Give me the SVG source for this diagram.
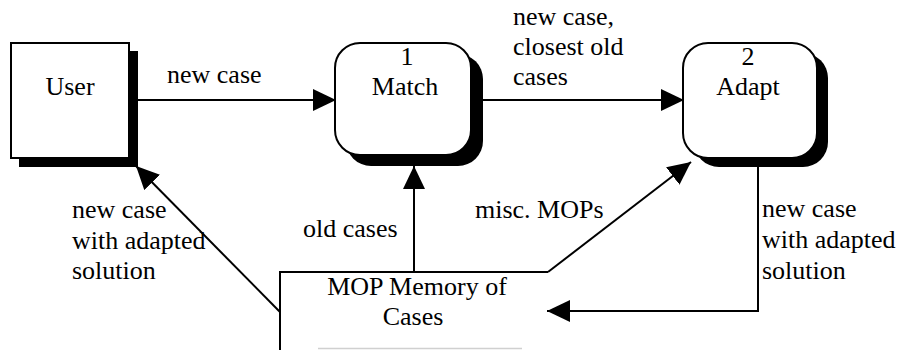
<svg xmlns="http://www.w3.org/2000/svg" width="899" height="350" viewBox="0 0 899 350">
<style>
.t{font-family:'Liberation Serif',serif;font-size:26px;fill:#000}
.c{text-anchor:middle}
.box{fill:#fff;stroke:#000;stroke-width:2}
.sh{fill:#000}
.ln{fill:none;stroke:#000;stroke-width:2}
</style>
<defs>
<marker id="ah" markerUnits="userSpaceOnUse" markerWidth="24" markerHeight="22" viewBox="0 0 24 22" refX="23" refY="11" orient="auto">
<path d="M0,0 L23,11 L0,22 Z" fill="#000"/>
</marker>
</defs>
<rect width="899" height="350" fill="#fff"/>
<g id="user">
<rect class="sh" x="19" y="51" width="119" height="116"/>
<rect class="box" x="11" y="43" width="118" height="115"/>
<text class="t c" font-family="Liberation Serif" x="70" y="95">User</text>
</g>
<g id="match">
<rect class="sh" x="346" y="54" width="137" height="112" rx="25"/>
<rect class="box" x="335" y="43" width="136" height="112" rx="25"/>
<text class="t c" x="407" y="65">1</text>
<text class="t c" x="405" y="95">Match</text>
</g>
<g id="adapt">
<rect class="sh" x="694" y="53" width="134" height="114" rx="25"/>
<rect class="box" x="683" y="43" width="134" height="115" rx="25"/>
<text class="t c" x="748" y="65">2</text>
<text class="t c" x="748" y="95">Adapt</text>
</g>
<g id="mop">
<path class="ln" d="M548,272 L280,272 L280,350"/>
<line x1="318" y1="348.5" x2="522" y2="348.5" stroke="#d0d0d0" stroke-width="1.5"/>
<text class="t c" x="417" y="295">MOP Memory of</text>
<text class="t c" x="413" y="325">Cases</text>
</g>
<g id="connectors">
<line class="ln" x1="138" y1="100" x2="336" y2="100" marker-end="url(#ah)"/>
<line class="ln" x1="483" y1="100" x2="684" y2="100" marker-end="url(#ah)"/>
<line class="ln" x1="414" y1="272" x2="414" y2="166" marker-end="url(#ah)"/>
<line class="ln" x1="548" y1="272" x2="691" y2="162" marker-end="url(#ah)"/>
<polyline class="ln" points="758,158 758,311 547,311" marker-end="url(#ah)"/>
<line class="ln" x1="280" y1="312" x2="136" y2="166" marker-end="url(#ah)"/>
</g>
<g id="labels">
<text class="t" x="167" y="83">new case</text>
<text class="t" x="513" y="25">new case,</text>
<text class="t" x="513" y="55">closest old</text>
<text class="t" x="513" y="85">cases</text>
<text class="t" x="72" y="218">new case</text>
<text class="t" x="72" y="249">with adapted</text>
<text class="t" x="72" y="279">solution</text>
<text class="t" x="303" y="237">old cases</text>
<text class="t" x="475" y="218">misc. MOPs</text>
<text class="t" x="762" y="217">new case</text>
<text class="t" x="762" y="248">with adapted</text>
<text class="t" x="762" y="279">solution</text>
</g>
</svg>
